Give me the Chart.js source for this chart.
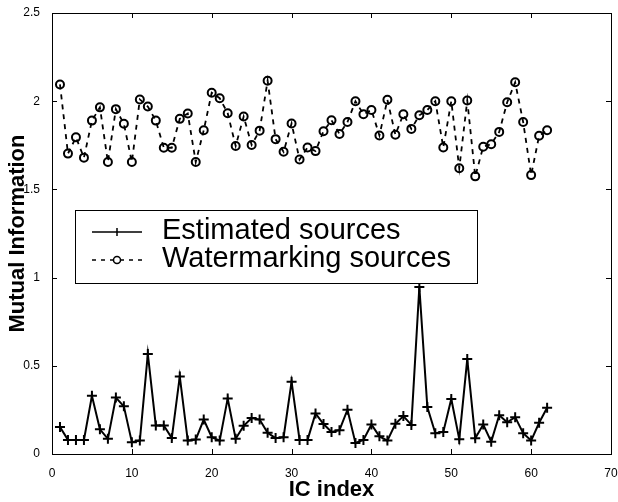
<!DOCTYPE html>
<html>
<head>
<meta charset="utf-8">
<script src="https://cdn.jsdelivr.net/npm/chart.js@4.4.1/dist/chart.umd.min.js"></script>
<style>
  html, body { margin: 0; padding: 0; background: #fff; }
  #wrap { width: 618px; height: 502px; }
</style>
</head>
<body>
<div id="wrap"><canvas id="myChart" width="618" height="502"></canvas></div>
<script>
var icIndex = [1, 2, 3, 4, 5, 6, 7, 8, 9, 10, 11, 12, 13, 14, 15, 16, 17, 18, 19, 20,
  21, 22, 23, 24, 25, 26, 27, 28, 29, 30, 31, 32, 33, 34, 35, 36, 37, 38, 39, 40,
  41, 42, 43, 44, 45, 46, 47, 48, 49, 50, 51, 52, 53, 54, 55, 56, 57, 58, 59, 60, 61, 62];

var estimated = [0.153, 0.08, 0.08, 0.08, 0.33, 0.14, 0.086, 0.32, 0.27, 0.067,
  0.076, 0.567, 0.162, 0.162, 0.09, 0.44, 0.076, 0.082, 0.195, 0.095,
  0.076, 0.315, 0.086, 0.16, 0.204, 0.195, 0.12, 0.09, 0.095, 0.41,
  0.08, 0.08, 0.23, 0.17, 0.125, 0.135, 0.251, 0.063, 0.08, 0.167,
  0.10, 0.076, 0.171, 0.215, 0.165, 0.947, 0.266, 0.118, 0.125, 0.312,
  0.084, 0.538, 0.089, 0.167, 0.07, 0.22, 0.18, 0.209, 0.118, 0.076,
  0.177, 0.262];

var watermarking = [2.095, 1.703, 1.795, 1.68, 1.89, 1.965, 1.655, 1.955, 1.872, 1.655,
  2.01, 1.97, 1.89, 1.736, 1.736, 1.90, 1.93, 1.655, 1.835, 2.048,
  2.017, 1.932, 1.746, 1.913, 1.752, 1.833, 2.116, 1.785, 1.713, 1.874,
  1.669, 1.738, 1.717, 1.83, 1.892, 1.814, 1.882, 2.0, 1.926, 1.95,
  1.806, 2.008, 1.81, 1.926, 1.843, 1.92, 1.95, 2.0, 1.738, 2.0,
  1.62, 2.004, 1.574, 1.742, 1.756, 1.826, 1.994, 2.107, 1.882, 1.581,
  1.804, 1.835];

var xTicks = [0, 10, 20, 30, 40, 50, 60, 70];
var yTicks = [0, 0.5, 1, 1.5, 2, 2.5];
var seriesNames = ['Estimated sources', 'Watermarking sources'];

var FONT = '"Liberation Sans", Arial, Helvetica, sans-serif';

// box, inward ticks and legend, matlab style
var frame = {
  id: 'frame',
  afterDatasetsDraw(chart) {
    const ctx = chart.ctx, a = chart.chartArea, x = chart.scales.x, y = chart.scales.y;
    ctx.save();
    ctx.strokeStyle = '#000';
    ctx.lineWidth = 1;
    ctx.setLineDash([]);
    ctx.strokeRect(Math.round(a.left) + 0.5, Math.round(a.top) + 0.5,
      Math.round(a.right - a.left), Math.round(a.bottom - a.top));
    ctx.beginPath();
    xTicks.forEach(v => {
      const px = Math.round(x.getPixelForValue(v)) + 0.5;
      ctx.moveTo(px, a.bottom); ctx.lineTo(px, a.bottom - 5);
      ctx.moveTo(px, a.top); ctx.lineTo(px, a.top + 5);
    });
    yTicks.forEach(v => {
      const py = Math.round(y.getPixelForValue(v)) + 0.5;
      ctx.moveTo(a.left, py); ctx.lineTo(a.left + 5, py);
      ctx.moveTo(a.right, py); ctx.lineTo(a.right - 5, py);
    });
    ctx.stroke();

    // legend
    const lx = 75.5, ly = 210.5, lw = 402, lh = 73;
    ctx.fillStyle = '#fff';
    ctx.fillRect(lx, ly, lw, lh);
    ctx.strokeRect(lx, ly, lw, lh);
    const rows = [232, 260];
    ctx.lineWidth = 1.5;
    // row 1: solid with plus
    ctx.beginPath();
    ctx.moveTo(92, rows[0]); ctx.lineTo(142, rows[0]);
    ctx.moveTo(117, rows[0] - 4); ctx.lineTo(117, rows[0] + 4);
    ctx.moveTo(114, rows[0]); ctx.lineTo(120, rows[0]);
    ctx.stroke();
    // row 2: dashed with circle
    ctx.setLineDash([4, 5]);
    ctx.beginPath();
    ctx.moveTo(92, rows[1]); ctx.lineTo(113, rows[1]);
    ctx.moveTo(142, rows[1]); ctx.lineTo(121, rows[1]);
    ctx.stroke();
    ctx.setLineDash([]);
    ctx.beginPath();
    ctx.arc(117, rows[1], 3.5, 0, Math.PI * 2);
    ctx.stroke();
    ctx.fillStyle = '#000';
    ctx.font = '29px ' + FONT;
    ctx.textBaseline = 'alphabetic';
    ctx.textAlign = 'left';
    ctx.fillText(seriesNames[0], 162, 239);
    ctx.fillText(seriesNames[1], 162, 267);
    ctx.restore();
  }
};

const ctx = document.getElementById('myChart');

var chart = new Chart(ctx, {
  type: 'line',
  data: {
    datasets: [{
      label: seriesNames[0],
      data: icIndex.map((v, i) => ({x: v, y: estimated[i]})),
      borderColor: '#000',
      borderWidth: 2,
      pointStyle: 'cross',
      pointRadius: 5,
      pointBorderWidth: 2,
      pointBorderColor: '#000',
      pointBackgroundColor: '#000',
      tension: 0
    }, {
      label: seriesNames[1],
      data: icIndex.map((v, i) => ({x: v, y: watermarking[i]})),
      borderColor: '#000',
      borderWidth: 1.8,
      borderDash: [5, 5],
      pointStyle: 'circle',
      pointRadius: 4,
      pointBorderWidth: 2,
      pointBorderColor: '#000',
      pointBackgroundColor: 'rgba(0,0,0,0)',
      tension: 0
    }]
  },
  options: {
    responsive: false,
    animation: false,
    devicePixelRatio: 1,
    layout: { padding: { top: 13, right: 7, left: 0, bottom: 0 } },
    plugins: {
      legend: { display: false },
      tooltip: { enabled: false }
    },
    scales: {
      x: {
        type: 'linear',
        min: 0,
        max: 70,
        afterBuildTicks: s => { s.ticks = xTicks.map(v => ({value: v})); },
        afterFit: s => { s.height = 48; s.paddingLeft = 0; s.paddingRight = 0; },
        grid: { display: false },
        border: { display: false },
        ticks: { color: '#000', font: { family: FONT, size: 12 }, padding: 4, maxRotation: 0,
          callback: v => String(v) },
        title: {
          display: true,
          text: 'IC index',
          color: '#000',
          font: { family: FONT, size: 22, weight: 'bold', lineHeight: 1.1 },
          padding: { top: 0, bottom: 0 }
        }
      },
      y: {
        min: 0,
        max: 2.5,
        afterBuildTicks: s => { s.ticks = yTicks.map(v => ({value: v})); },
        afterFit: s => { s.width = 52; s.paddingTop = 0; s.paddingBottom = 0; },
        grid: { display: false },
        border: { display: false },
        ticks: { color: '#000', font: { family: FONT, size: 12 }, padding: 4,
          callback: v => String(v) },
        title: {
          display: true,
          text: 'Mutual Information',
          color: '#000',
          font: { family: FONT, size: 22, weight: 'bold', lineHeight: 1.2 },
          padding: { top: 5, bottom: 0 }
        }
      }
    }
  },
  plugins: [frame]
});
</script>
</body>
</html>
